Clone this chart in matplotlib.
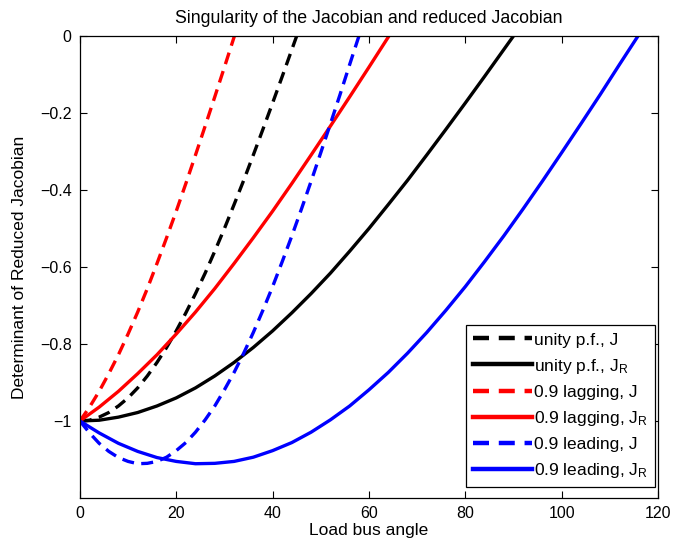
import matplotlib
matplotlib.use('Agg')
import matplotlib.pyplot as plt

plt.rcParams['font.family'] = ['Liberation Sans', 'DejaVu Sans']
plt.rcParams['mathtext.fontset'] = 'custom'
plt.rcParams['mathtext.rm'] = 'Liberation Sans'
plt.rcParams['mathtext.it'] = 'Liberation Sans'

# angles (deg) for the J curves and the J_R curves
x_j = [0, 2, 4, 6, 8, 10, 12, 14, 16, 18, 20, 22, 24, 26, 28, 30,
       32, 34, 36, 38, 40, 42, 44, 46, 48, 50, 52, 54, 56, 58]
x_jr = [0, 4, 8, 12, 16, 20, 24, 28, 32, 36, 40, 44, 48, 52, 56, 60,
        64, 68, 72, 76, 80, 84, 88, 92, 96, 100, 104, 108, 112, 116]

# unity p.f.
unity_j = [-1.000, -0.998, -0.990, -0.978, -0.961, -0.940, -0.914, -0.883,
           -0.848, -0.809, -0.766, -0.719, -0.669, -0.616, -0.559, -0.500,
           -0.438, -0.375, -0.309, -0.242, -0.174, -0.105, -0.035, 0.035]
unity_jr = [-1.000, -0.998, -0.990, -0.978, -0.961, -0.940, -0.914, -0.883,
            -0.848, -0.809, -0.766, -0.719, -0.669, -0.616, -0.559, -0.500,
            -0.438, -0.375, -0.309, -0.242, -0.174, -0.105, -0.035, 0.035]
# 0.9 lagging
lag_j = [-1.000, -0.964, -0.923, -0.877, -0.828, -0.774, -0.717, -0.656,
         -0.591, -0.524, -0.455, -0.383, -0.309, -0.234, -0.158, -0.081,
         -0.003, 0.074]
lag_jr = [-1.000, -0.964, -0.923, -0.877, -0.828, -0.774, -0.717, -0.656,
          -0.591, -0.524, -0.455, -0.383, -0.309, -0.234, -0.158, -0.081,
          -0.003, 0.074]
# 0.9 leading
lead_j = [-1.000, -1.031, -1.058, -1.079, -1.095, -1.105, -1.111, -1.110,
          -1.105, -1.094, -1.077, -1.056, -1.029, -0.997, -0.961, -0.919,
          -0.874, -0.824, -0.770, -0.712, -0.651, -0.586, -0.519, -0.449,
          -0.377, -0.303, -0.228, -0.152, -0.074, 0.003]
lead_jr = [-1.000, -1.031, -1.058, -1.079, -1.095, -1.105, -1.111, -1.110,
           -1.105, -1.094, -1.077, -1.056, -1.029, -0.997, -0.961, -0.919,
           -0.874, -0.824, -0.770, -0.712, -0.651, -0.586, -0.519, -0.449,
           -0.377, -0.303, -0.228, -0.152, -0.074, 0.003]

fig = plt.figure(figsize=(6.77, 5.41), dpi=100)
ax = fig.add_axes([0.118, 0.0795, 0.854, 0.854])

lw = 2.4
dash = (3.6, 2.2)
ax.plot(x_j[:len(unity_j)], unity_j, color='k', lw=lw, ls=(0, dash), label='unity p.f., J')
ax.plot(x_jr[:len(unity_jr)], unity_jr, color='k', lw=lw, label='unity p.f., J$_\\mathregular{R}$')
ax.plot(x_j[:len(lag_j)], lag_j, color='#ff0000', lw=lw, ls=(0, dash), label='0.9 lagging, J')
ax.plot(x_jr[:len(lag_jr)], lag_jr, color='#ff0000', lw=lw, label='0.9 lagging, J$_\\mathregular{R}$')
ax.plot(x_j[:len(lead_j)], lead_j, color='#0000ff', lw=lw, ls=(0, dash), label='0.9 leading, J')
ax.plot(x_jr[:len(lead_jr)], lead_jr, color='#0000ff', lw=lw, label='0.9 leading, J$_\\mathregular{R}$')

ax.set_xlim(0, 120)
ax.set_ylim(-1.2, 0)
ax.set_xticks([0, 20, 40, 60, 80, 100, 120])
ax.set_yticks([-1, -0.8, -0.6, -0.4, -0.2, 0])
ax.set_yticklabels(['\u22121', '\u22120.8', '\u22120.6', '\u22120.4', '\u22120.2', '0'])
ax.tick_params(direction='in', top=True, right=True, length=5, labelsize=11.5, width=0.8, pad=6)
for s in ax.spines.values():
    s.set_linewidth(0.9)

ax.set_title('Singularity of the Jacobian and reduced Jacobian', fontsize=12.8, pad=9)
ax.set_xlabel('Load bus angle', fontsize=12.5, labelpad=1)
ax.set_ylabel('Determinant of Reduced Jacobian', fontsize=12.5, labelpad=9)

leg = ax.legend(loc='lower right', bbox_to_anchor=(0.995, 0.024), borderaxespad=0,
                fontsize=12.5, frameon=True, fancybox=False,
                edgecolor='k', framealpha=1, handlelength=3.4, handletextpad=0.15,
                labelspacing=0.52, borderpad=0.4)
leg.get_frame().set_linewidth(0.9)
for h in leg.get_lines():
    h.set_linewidth(3.2)

fig.savefig('out.png', dpi=100)
